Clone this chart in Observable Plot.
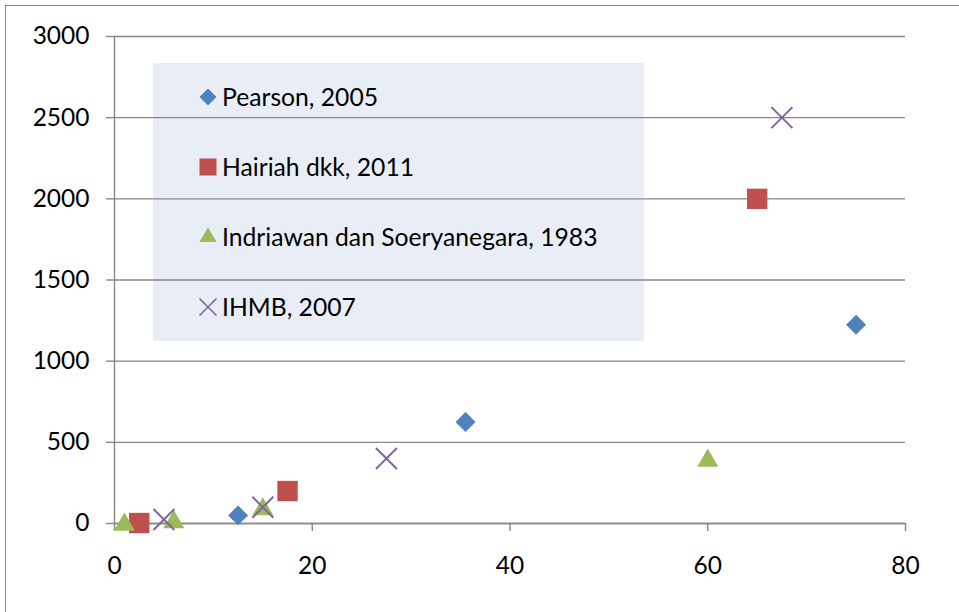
<!DOCTYPE html>
<html><head><meta charset="utf-8">
<script src="https://cdn.jsdelivr.net/npm/d3@7"></script>
<script src="https://cdn.jsdelivr.net/npm/@observablehq/plot@0.6"></script>
<style>
body{margin:0;background:#fff;}
#wrap{position:relative;width:959px;height:612px;overflow:hidden;font-family:Lato,"Open Sans",sans-serif;}
#frame{position:absolute;left:5px;top:5px;width:1000px;height:1000px;border-left:1.5px solid #878787;border-top:1.5px solid #878787;}
#legend{position:absolute;left:153px;top:63px;width:491px;height:278px;background:#E9EEF6;}
#chart{position:absolute;left:0;top:0;}
</style></head>
<body>
<div id="wrap"><div id="frame"></div><div id="legend"></div><div id="chart"></div></div>
<script>
// Data
const seriesNames = ["Pearson, 2005", "Hairiah dkk, 2011", "Indriawan dan Soeryanegara, 1983", "IHMB, 2007"];
const seriesColors = ["#4F81BD", "#C0504D", "#9BBB59", "#8064A2"];
const pearsonX = [12.5, 35.5, 75];
const pearsonY = [50, 625, 1225];
const hairiahX = [2.5, 17.5, 65];
const hairiahY = [3, 200, 2000];
const indriawanX = [1, 6, 15, 60];
const indriawanY = [5, 20, 100, 400];
const ihmbX = [5, 15, 27.5, 67.5];
const ihmbY = [25, 100, 400, 2500];
const xTicks = [0, 20, 40, 60, 80];
const yTicks = [0, 500, 1000, 1500, 2000, 2500, 3000];

const toRows = (xs, ys) => xs.map((x, i) => ({x, y: ys[i]}));
const grid = "#868686";

const chart = Plot.plot({
  width: 959, height: 612,
  marginLeft: 114, marginRight: 54, marginTop: 36, marginBottom: 89,
  x: {domain: [0, 80], label: null},
  y: {domain: [0, 3000], label: null},
  style: {background: "transparent", fontFamily: "Lato, 'Open Sans', sans-serif", fontSize: "24.5px", color: "#000"},
  marks: [
    Plot.gridY(yTicks, {stroke: grid, strokeOpacity: 1, strokeWidth: 1.4}),
    Plot.ruleY([0], {stroke: grid, strokeWidth: 1.4}),
    Plot.ruleX([0], {stroke: grid, strokeWidth: 1.4}),
    Plot.axisX({ticks: xTicks, tickSize: 8, tickPadding: 25, stroke: grid, strokeWidth: 1.4, fill: "#000", label: null, tickFormat: d => String(d)}),
    Plot.axisY({ticks: yTicks, tickSize: 8, tickPadding: 17, stroke: grid, strokeWidth: 1.4, fill: "#000", label: null, tickFormat: d => String(d)}),
    Plot.dot(toRows(pearsonX, pearsonY), {x: "x", y: "y", symbol: "diamond2", r: 9, fill: seriesColors[0], stroke: null}),
    Plot.dot(toRows(hairiahX, hairiahY), {x: "x", y: "y", symbol: "square", r: 11.5, fill: seriesColors[1], stroke: null}),
    Plot.dot(toRows(indriawanX, indriawanY), {x: "x", y: "y", symbol: "triangle", r: 7.8, fill: seriesColors[2], stroke: null, dy: 2}),
    Plot.dot(toRows(ihmbX, ihmbY), {x: "x", y: "y", symbol: "times", r: 9.6, fill: "none", stroke: seriesColors[3], strokeWidth: 2})
  ]
});
document.getElementById("chart").append(chart);

// Legend (drawn behind the chart so gridlines show over it)
const legendSymbols = [
  {type: d3.symbolDiamond2, size: 184, filled: true},
  {type: d3.symbolSquare, size: 289, filled: true},
  {type: d3.symbolTriangle, size: 125, filled: true},
  {type: d3.symbolTimes, size: 190, filled: false}
];
const lsvg = d3.select("#legend").append("svg").attr("width", 491).attr("height", 278)
  .style("font-family", "Lato, 'Open Sans', sans-serif").style("font-size", "24.7px");
seriesNames.forEach((name, i) => {
  const cy = 34 + i * 70;
  const s = legendSymbols[i];
  lsvg.append("path")
    .attr("transform", `translate(55,${cy})`)
    .attr("d", d3.symbol(s.type, s.size)())
    .attr("fill", s.filled ? seriesColors[i] : "none")
    .attr("stroke", s.filled ? "none" : seriesColors[i])
    .attr("stroke-width", 1.6);
  lsvg.append("text").attr("x", 69).attr("y", cy + 8.8).attr("fill", "#000").text(name);
});
</script>
</body></html>
